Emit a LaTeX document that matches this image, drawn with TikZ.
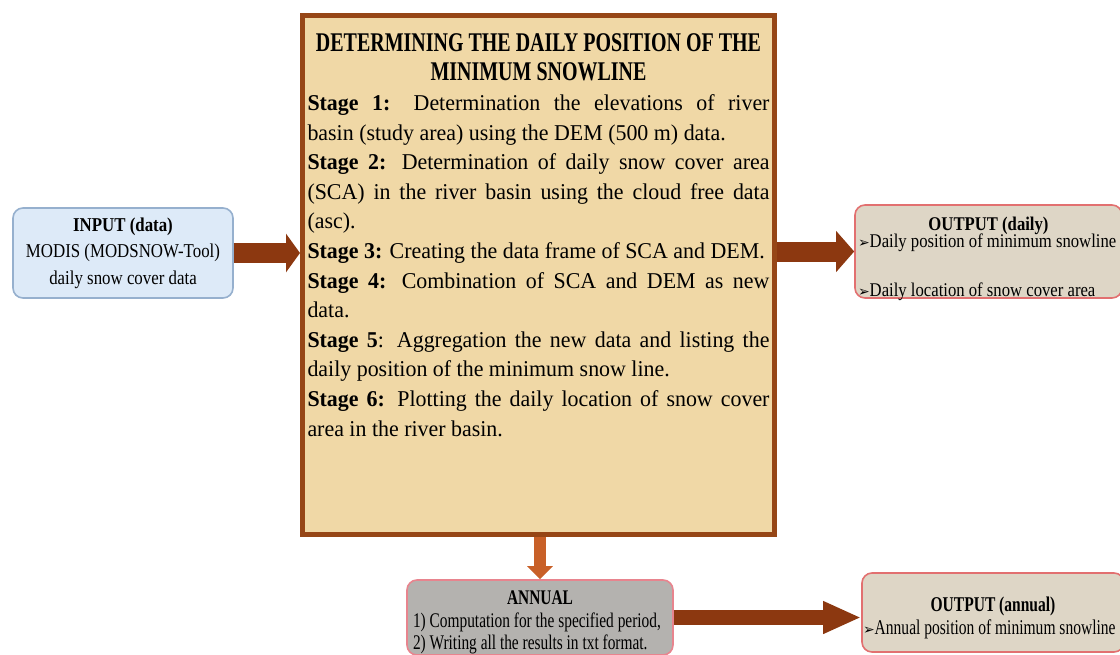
\documentclass[tikz,border=0pt]{standalone}
\usepackage{fontspec}
\setmainfont{Liberation Serif}[FakeStretch=0.97]
\newfontfamily\titlefont{Liberation Serif}[FakeStretch=0.74]
\newfontfamily\narrowfont{Liberation Serif}[FakeStretch=0.86]
\newfontfamily\dingfont{DejaVu Sans}
\usetikzlibrary{arrows.meta}
\hyphenpenalty=10000
\exhyphenpenalty=10000

\definecolor{stagefill}{RGB}{240,216,166}
\definecolor{stageline}{RGB}{150,70,22}
\definecolor{inputfill}{RGB}{221,234,248}
\definecolor{inputline}{RGB}{150,176,206}
\definecolor{outfill}{RGB}{222,214,198}
\definecolor{outline}{RGB}{226,112,112}
\definecolor{annualfill}{RGB}{180,178,175}
\definecolor{annualline}{RGB}{232,132,142}
\definecolor{arrowbrown}{RGB}{140,56,16}
\definecolor{arroworange}{RGB}{200,96,40}

\newcommand\pointer{{\dingfont\fontsize{7}{7}\selectfont ➢}}

\begin{document}
\begin{tikzpicture}[
        x=0.5pt, y=-0.5pt,
        flowbox/.style={draw, rounded corners=5pt, line width=0.8pt},
        inbox/.style={flowbox, fill=inputfill, draw=inputline, align=center,
            minimum width=110pt, minimum height=45pt, font=\narrowfont\fontsize{9.8}{13.2}\selectfont},
        outbox/.style={flowbox, fill=outfill, draw=outline, inner sep=0pt},
        annbox/.style={flowbox, fill=annualfill, draw=annualline, inner sep=0pt},
        stagebox/.style={draw=stageline, fill=stagefill, line width=2.5pt, inner sep=0pt,
            minimum width=236pt, minimum height=259.5pt},
        bigarrow/.style={draw=arrowbrown, line width=10pt, -{Triangle[length=8pt, width=20pt]}},
    ]
        \useasboundingbox (0,0) rectangle (1120,654);

        % Boxes
        \node[stagebox] (stages) at (538.5, 275) {%
            \begin{minipage}[c][255pt][t]{231pt}
            \vspace*{7pt}
            {\centering\titlefont\fontsize{13.5}{14.5}\selectfont\bfseries
                DETERMINING THE DAILY POSITION OF THE\\ MINIMUM SNOWLINE\par}
            \fontsize{11.3}{14.8}\selectfont
            \textbf{Stage 1:} Determination the elevations of river\linebreak basin (study area) using the DEM (500 m) data.\par
            \textbf{Stage 2:} Determination of daily snow cover area\linebreak (SCA) in the river basin using the cloud free data\linebreak (asc).\par
            \textbf{Stage 3:} Creating the data frame of SCA and DEM.\par
            \textbf{Stage 4:} Combination of SCA and DEM as new\linebreak data.\par
            \textbf{Stage 5}: Aggregation the new data and listing the\linebreak daily position of the minimum snow line.\par
            \textbf{Stage 6:} Plotting the daily location of snow cover\linebreak area in the river basin.\par
            \end{minipage}};
        \node[inbox] (input) at (123, 253) {\textbf{INPUT (data)}\\ MODIS (MODSNOW-Tool)\\ daily snow cover data};
        \node[outbox] (outdaily) at (988.5, 251.5) {%
            \begin{minipage}[c][46.5pt][t]{133.5pt}
            \narrowfont\fontsize{9.7}{8.5}\selectfont\lineskiplimit=-6pt\raggedright
            \vspace*{6pt}
            {\centering\textbf{OUTPUT (daily)}\par}
            \hspace*{1.5pt}\pointer Daily position of minimum snowline\par
            \vspace{16pt}\hspace*{1.5pt}\pointer Daily location of snow cover area\par
            \end{minipage}};
        \node[annbox] (annual) at (540, 617.5) {%
            \begin{minipage}[c][37.5pt][t]{133pt}
            \titlefont\fontsize{10.4}{11.3}\selectfont\raggedright
            \vspace*{5.5pt}
            {\centering\textbf{ANNUAL}\par}
            \hspace*{3pt}1) Computation for the specified period,\par
            \hspace*{3pt}2) Writing all the results in txt format.\par
            \end{minipage}};
        \node[outbox] (outannual) at (993, 612.5) {%
            \begin{minipage}[c][39.5pt][t]{131pt}
            \titlefont\fontsize{10.5}{11.5}\selectfont\raggedright
            \vspace*{12pt}
            {\centering\textbf{OUTPUT (annual)}\par}
            \hspace*{0.5pt}\pointer Annual position of minimum snowline\par
            \end{minipage}};

        % Arrows
        \draw[bigarrow, -{Triangle[length=7pt, width=19pt]}] (input.east) -- (input.east -| stages.west);
        \draw[bigarrow, -{Triangle[length=9pt, width=20pt]}] (stages.east |- outdaily.west) -- (outdaily.west);
        \draw[bigarrow, draw=arroworange, line width=6pt, -{Triangle[length=6.5pt, width=12.5pt]}]
            (stages.south -| annual.north) -- (annual.north);
        \draw[bigarrow, line width=7.5pt, -{Triangle[length=19pt, width=15pt]}]
            (annual.east) -- (annual.east -| outannual.west);
    \end{tikzpicture}
\end{document}
